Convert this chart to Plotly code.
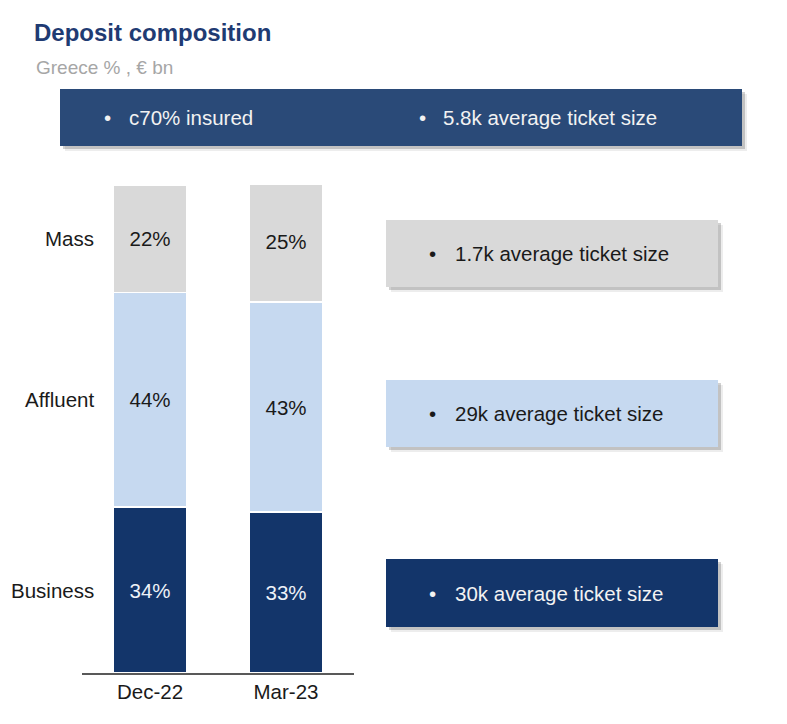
import plotly.graph_objects as go

# ---- data ----
periods = ["Dec-22", "Mar-23"]
segments = ["Business", "Affluent", "Mass"]
business = [34, 33]
affluent = [44, 43]
mass = [22, 25]
seg_values = {"Business": business, "Affluent": affluent, "Mass": mass}
ticket_sizes = {"Mass": "1.7k average ticket size",
                "Affluent": "29k average ticket size",
                "Business": "30k average ticket size"}
banner_texts = ["c70% insured", "5.8k average ticket size"]
title = "Deposit composition"
subtitle = "Greece % , € bn"

# ---- styles ----
W, H = 787, 724
FONT = "Arial, 'Liberation Sans', sans-serif"
seg_colors = {"Business": "#13356A", "Affluent": "#C6D9F0", "Mass": "#D9D9D9"}
seg_text_colors = {"Business": "#EEF2F8", "Affluent": "#1A1A1A", "Mass": "#1A1A1A"}
BANNER = "#2A4A78"
BAR_W = 0.544
FS = 20.5


def X(px):
    return px / W


def Y(py):
    return 1 - py / H


fig = go.Figure()
for seg in segments:
    vals = seg_values[seg]
    fig.add_trace(go.Bar(
        x=periods, y=vals, name=seg, width=BAR_W,
        marker=dict(color=seg_colors[seg], line=dict(color="white", width=1.5)),
        text=[f"{v}%" for v in vals], textposition="inside",
        insidetextanchor="middle",
        textfont=dict(size=FS, color=seg_text_colors[seg], family=FONT),
        hoverinfo="skip", showlegend=False,
    ))

shapes = []
annotations = []


def box(x0, y0, x1, y1, color):
    # soft shadow
    shapes.append(dict(type="rect", xref="paper", yref="paper",
                       x0=X(x0 + 5), x1=X(x1 + 5), y0=Y(y1 + 5), y1=Y(y0 + 5),
                       fillcolor="rgba(0,0,0,0.07)", line=dict(width=0), layer="below"))
    shapes.append(dict(type="rect", xref="paper", yref="paper",
                       x0=X(x0 + 3), x1=X(x1 + 3), y0=Y(y1 + 3), y1=Y(y0 + 3),
                       fillcolor="rgba(0,0,0,0.18)", line=dict(width=0), layer="below"))
    shapes.append(dict(type="rect", xref="paper", yref="paper",
                       x0=X(x0), x1=X(x1), y0=Y(y1), y1=Y(y0),
                       fillcolor=color, line=dict(width=0), layer="below"))


def bullet_text(bx, tx, ty, text, color):
    annotations.append(dict(x=X(bx), y=Y(ty), xref="paper", yref="paper", text="•",
                            showarrow=False, xanchor="center", yanchor="middle",
                            font=dict(size=FS, color=color, family=FONT)))
    annotations.append(dict(x=X(tx), y=Y(ty), xref="paper", yref="paper", text=text,
                            showarrow=False, xanchor="left", yanchor="middle",
                            font=dict(size=FS, color=color, family=FONT)))


# banner
box(60, 89, 742, 146, BANNER)
bullet_text(107, 127, 118, banner_texts[0], "#F2F2F2")
bullet_text(422, 441, 118, banner_texts[1], "#F2F2F2")

# right-side boxes
right_boxes = {"Mass": (220, 287), "Affluent": (380, 447), "Business": (559, 627)}
for seg in segments:
    y0, y1 = right_boxes[seg]
    box(386, y0, 718, y1, seg_colors[seg])
    bullet_text(432, 453, (y0 + y1) / 2, ticket_sizes[seg],
                "#F2F2F2" if seg == "Business" else "#1A1A1A")

# category labels at Dec-22 segment centres
cum = 0
for seg in segments:
    v = seg_values[seg][0]
    annotations.append(dict(x=-BAR_W / 2, y=cum + v / 2, xref="x", yref="y", text=seg,
                            showarrow=False, xanchor="right", yanchor="middle", xshift=-17,
                            font=dict(size=FS, color="#1A1A1A", family=FONT)))
    cum += v

# titles
annotations.append(dict(x=X(32), y=Y(33), xref="paper", yref="paper", text=f"<b>{title}</b>",
                        showarrow=False, xanchor="left", yanchor="middle",
                        font=dict(size=24, color="#1F3B73", family=FONT)))
annotations.append(dict(x=X(34), y=Y(68), xref="paper", yref="paper", text=subtitle,
                        showarrow=False, xanchor="left", yanchor="middle",
                        font=dict(size=19, color="#A6A6A6", family=FONT)))

fig.update_layout(
    width=W, height=H, margin=dict(l=0, r=0, t=0, b=0),
    paper_bgcolor="white", plot_bgcolor="white",
    barmode="stack", font=dict(family=FONT),
    shapes=shapes, annotations=annotations,
    xaxis=dict(domain=[X(82), X(354)], range=[-0.5, 1.5], type="category",
               showline=True, linecolor="#595959", linewidth=1.5, ticks="",
               showgrid=False, zeroline=False, automargin=False,
               tickfont=dict(size=FS, color="#1A1A1A", family=FONT)),
    yaxis=dict(domain=[Y(673), Y(185)], range=[0, 100], visible=False,
               showgrid=False, zeroline=False, automargin=False),
)

fig.write_html("out.html")
